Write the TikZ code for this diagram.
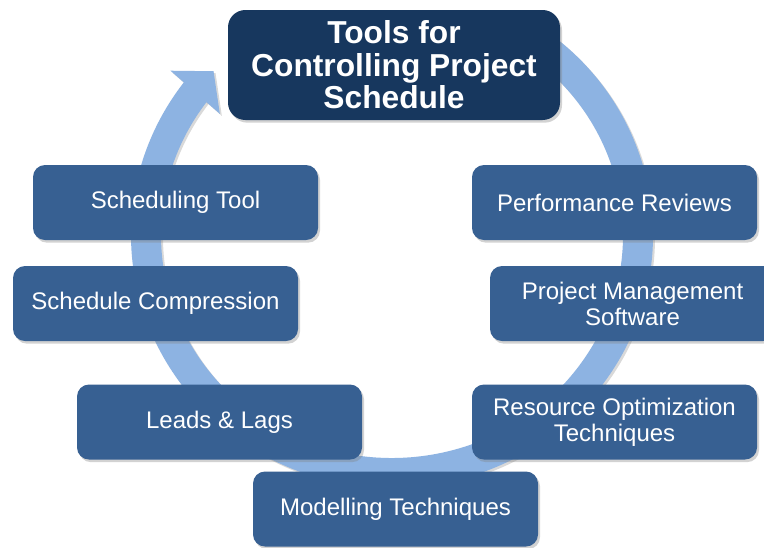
\documentclass[tikz,border=0pt]{standalone}
\usepackage{fontspec}
\setmainfont{Liberation Sans}
\usetikzlibrary{arrows.meta,bending,shadows}
\definecolor{navy}{HTML}{17375E}
\definecolor{boxblue}{HTML}{376092}
\definecolor{ringblue}{HTML}{8DB3E2}
\begin{document}
\begin{tikzpicture}[x=0.75pt,y=-0.75pt,
  boxshadow/.style={drop shadow={shadow xshift=1.5pt, shadow yshift=-2pt, opacity=0.35}},
  item/.style={fill=boxblue, rounded corners=9pt, minimum width=213.75pt, minimum height=56.25pt,
    inner sep=0pt, align=center, text=white, font=\fontsize{18}{19.5}\selectfont, boxshadow},
  titlebox/.style={fill=navy, rounded corners=13pt, minimum width=249pt, minimum height=82.5pt,
    inner sep=0pt, align=center, text=white, font=\fontsize{23.8}{24.4}\selectfont\bfseries, boxshadow},
  ring/.style={line width=22.5pt, draw=ringblue},
  ringshadow/.style={line width=22.5pt, draw=black, opacity=0.15}
]
\clip (0,0) rectangle (764,547);
\fill[white] (0,0) rectangle (764,547);
\coordinate (c) at (392,235);
\coordinate (cs) at (394,237);
\coordinate (rs) at ([shift={(-55:246 and 238)}]c);
\coordinate (rss) at ([shift={(-55:246 and 238)}]cs);
\draw[ringshadow, -{Triangle[length=21pt,width=48pt]}] (rss) arc[start angle=-55, end angle=223.5, x radius=246, y radius=238];
\draw[ring, -{Triangle[length=21pt,width=48pt]}] (rs) arc[start angle=-55, end angle=223.5, x radius=246, y radius=238];
\node[titlebox] (top) at (394,65) {Tools for\\Controlling Project\\Schedule};
\node[item] (st) at (175.5,202.5) {Scheduling Tool};
\node[item] (sc) at (155.5,303.5) {Schedule Compression};
\node[item] (ll) at (219.5,422) {Leads \& Lags};
\node[item] (mt) at (395.5,509) {Modelling Techniques};
\node[item] (pr) at (614.5,202.5) {Performance Reviews};
\node[item] (pm) at (632.5,303.5) {Project Management\\Software};
\node[item] (ro) at (614.5,422) {Resource Optimization\\Techniques};
\end{tikzpicture}
\end{document}
